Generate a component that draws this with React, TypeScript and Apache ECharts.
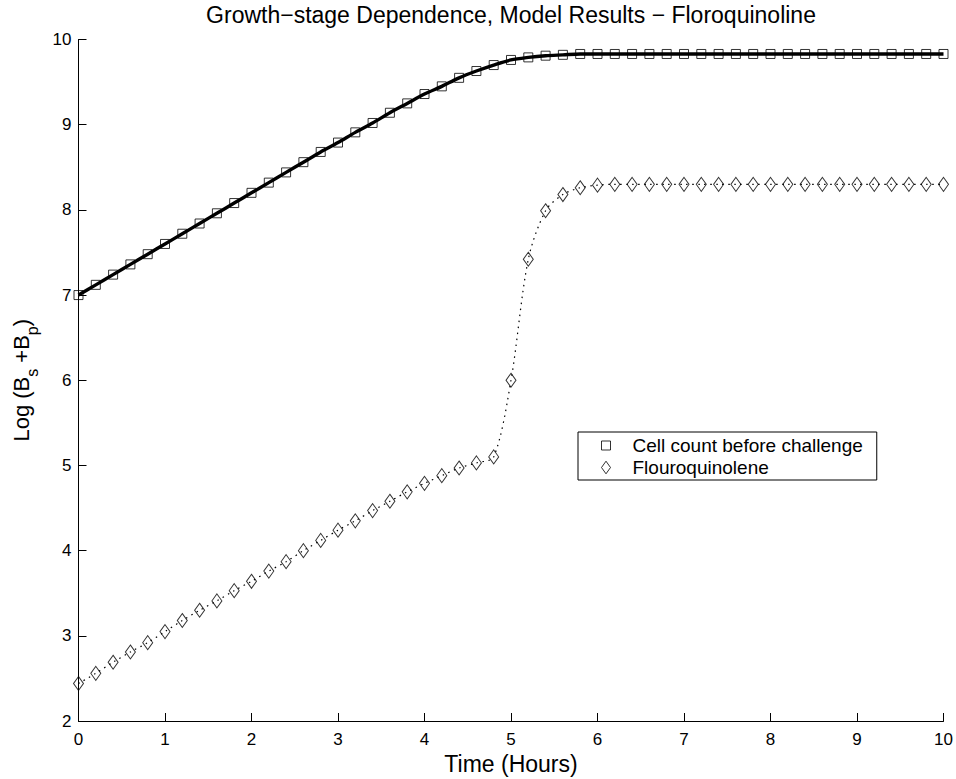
import React, { useEffect, useRef } from "react";
import * as echarts from "echarts";

const hours = [
  0, 0.2, 0.4, 0.6, 0.8, 1, 1.2, 1.4, 1.6, 1.8, 2, 2.2, 2.4, 2.6, 2.8, 3, 3.2, 3.4, 3.6, 3.8,
  4, 4.2, 4.4, 4.6, 4.8, 5, 5.2, 5.4, 5.6, 5.8, 6, 6.2, 6.4, 6.6, 6.8, 7, 7.2, 7.4, 7.6, 7.8,
  8, 8.2, 8.4, 8.6, 8.8, 9, 9.2, 9.4, 9.6, 9.8, 10,
];

const cellCount = [
  7.0, 7.12, 7.24, 7.36, 7.48, 7.6, 7.72, 7.84, 7.96, 8.08, 8.2, 8.32, 8.44, 8.56, 8.68, 8.79,
  8.91, 9.02, 9.14, 9.25, 9.36, 9.45, 9.55, 9.63, 9.7, 9.76, 9.79, 9.81, 9.82, 9.83, 9.83,
  9.83, 9.83, 9.83, 9.83, 9.83, 9.83, 9.83, 9.83, 9.83, 9.83, 9.83, 9.83, 9.83, 9.83, 9.83,
  9.83, 9.83, 9.83, 9.83, 9.83,
];

const flouro = [
  2.44, 2.56, 2.69, 2.81, 2.92, 3.05, 3.18, 3.3, 3.41, 3.53, 3.64, 3.76, 3.87, 4.0, 4.12, 4.24,
  4.35, 4.47, 4.58, 4.69, 4.79, 4.88, 4.97, 5.03, 5.1, 6.0, 7.42, 7.99, 8.18, 8.26, 8.29, 8.3,
  8.3, 8.3, 8.3, 8.3, 8.3, 8.3, 8.3, 8.3, 8.3, 8.3, 8.3, 8.3, 8.3, 8.3, 8.3, 8.3, 8.3, 8.3, 8.3,
];

const xTicks = [0, 10, 1];
const yTicks = [2, 10, 1];

const TITLE = "Growth\u2212stage Dependence, Model Results \u2212 Floroquinoline";
const X_NAME = "Time (Hours)";
const NAME_CELL = "Cell count before challenge";
const NAME_FLUORO = "Flouroquinolene";

const FONT = "'Liberation Sans', Arial, Helvetica, sans-serif";

export default function App() {
  const ref = useRef<HTMLDivElement>(null);
  useEffect(() => {
    if (!ref.current) return;
    const chart = echarts.init(ref.current, undefined, { renderer: "svg" });
    const cellPts = hours.map((t, i) => [t, cellCount[i]]);
    const flPts = hours.map((t, i) => [t, flouro[i]]);
    const axisCommon = {
      axisLine: { show: true, lineStyle: { color: "#000", width: 1 } },
      axisTick: { show: true, inside: true, length: 8, lineStyle: { color: "#000" } },
      splitLine: { show: false },
    };
    chart.setOption({
      animation: false,
      backgroundColor: "#fff",
      textStyle: { fontFamily: FONT },
      title: {
        text: TITLE,
        left: 511,
        top: 3,
        padding: 0,
        textAlign: "center",
        textStyle: { fontFamily: FONT, fontSize: 23, fontWeight: "normal", color: "#000" },
      },
      grid: {
        left: 78.5,
        right: 12.5,
        top: 39.5,
        bottom: 58,
        containLabel: false,
        outerBoundsMode: "none",
      },
      xAxis: {
        type: "value",
        min: xTicks[0],
        max: xTicks[1],
        interval: xTicks[2],
        name: X_NAME,
        nameLocation: "middle",
        nameGap: 30,
        nameTextStyle: { fontFamily: FONT, fontSize: 23, color: "#000" },
        axisLabel: { color: "#000", fontSize: 17, fontFamily: FONT, margin: 10 },
        ...axisCommon,
      },
      yAxis: {
        type: "value",
        min: yTicks[0],
        max: yTicks[1],
        interval: yTicks[2],
        name: "{n|Log (B}{s|s}{n| +B}{s|p}{n|)}",
        nameLocation: "middle",
        nameGap: 38,
        nameTextStyle: {
          fontFamily: FONT,
          color: "#000",
          rich: {
            n: { fontSize: 22, lineHeight: 30, verticalAlign: "top", fontFamily: FONT, color: "#000" },
            s: { fontSize: 16, lineHeight: 30, verticalAlign: "bottom", fontFamily: FONT, color: "#000" },
          },
        },
        axisLabel: { color: "#000", fontSize: 17, fontFamily: FONT, margin: 7 },
        ...axisCommon,
      },
      legend: {
        orient: "vertical",
        left: 578,
        top: 432,
        padding: [4, 14, 3, 23],
        itemGap: 3,
        itemWidth: 9,
        itemHeight: 13,
        borderColor: "#000",
        borderWidth: 1,
        backgroundColor: "#fff",
        selectedMode: false,
        symbolKeepAspect: true,
        formatter: (n: string) => `{g|}${n}`,
        textStyle: {
          fontFamily: FONT,
          fontSize: 19,
          color: "#000",
          rich: { g: { width: 17 } },
        },
        data: [
          {
            name: NAME_CELL,
            icon: "path://M0,0H10V10H0Z",
            itemStyle: { color: "transparent", borderColor: "#000", borderWidth: 1 },
          },
          {
            name: NAME_FLUORO,
            icon: "path://M5,0L10,7L5,14L0,7Z",
            itemStyle: { color: "transparent", borderColor: "#000", borderWidth: 1 },
          },
        ],
      },
      series: [
        {
          type: "line",
          name: "cellLine",
          data: cellPts,
          smooth: 0.3,
          showSymbol: false,
          symbol: "none",
          lineStyle: { color: "#000", width: 3.4 },
          z: 2,
        },
        {
          type: "scatter",
          name: NAME_CELL,
          data: cellPts,
          symbol: "rect",
          symbolSize: 9,
          itemStyle: { color: "transparent", borderColor: "#000", borderWidth: 1 },
          z: 3,
        },
        {
          type: "line",
          name: "flLine",
          data: flPts,
          smooth: 0.3,
          showSymbol: false,
          symbol: "none",
          lineStyle: { color: "#000", width: 1.2, type: [1.5, 4.5] },
          z: 2,
        },
        {
          type: "scatter",
          name: NAME_FLUORO,
          data: flPts,
          symbol: "diamond",
          symbolSize: [10, 14],
          itemStyle: { color: "transparent", borderColor: "#000", borderWidth: 1 },
          z: 3,
        },
      ],
    });
    return () => chart.dispose();
  }, []);
  return (
    <div
      ref={ref}
      style={{ position: "fixed", left: 0, top: 0, width: 956, height: 779, background: "#fff" }}
    />
  );
}
